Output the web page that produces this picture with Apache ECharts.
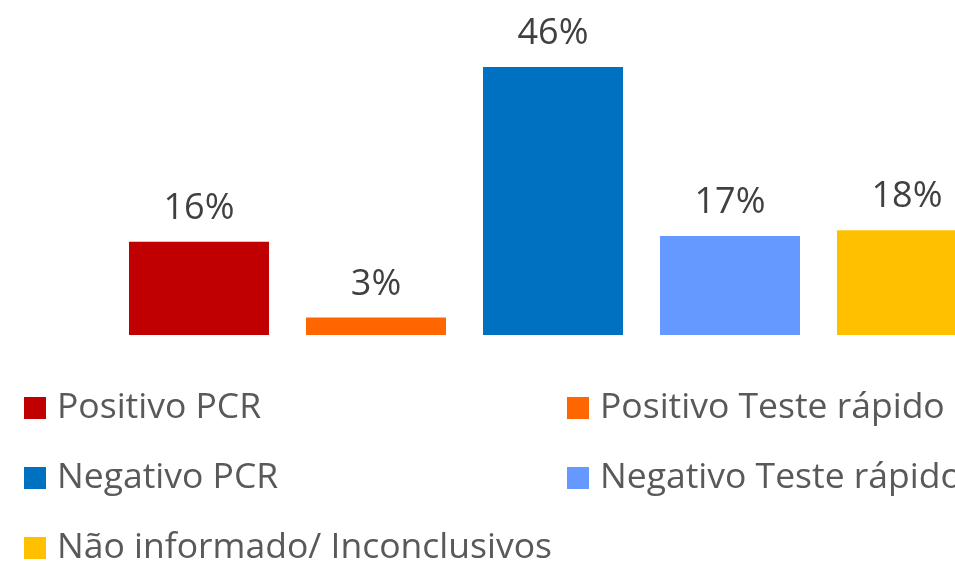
<!DOCTYPE html>
<html>
<head>
<meta charset="utf-8">
<script src="https://cdn.jsdelivr.net/npm/echarts@6/dist/echarts.min.js"></script>
<style>
  html, body { margin: 0; padding: 0; background: #fff; }
  #chart { width: 955px; height: 562px; }
</style>
</head>
<body>
<div id="chart"></div>
<script>
// Dados do gráfico
const categorias = ['Positivo PCR', 'Positivo Teste rápido', 'Negativo PCR', 'Negativo Teste rápido', 'Não informado/ Inconclusivos'];
const valores = [16, 3, 46, 17, 18];
const cores = ['#C00000', '#FF6600', '#0070C0', '#6699FF', '#FFC000'];

// posição de cada item da legenda (duas colunas)
const legendPos = [
  { left: 24, top: 388 },
  { left: 567, top: 388 },
  { left: 24, top: 458 },
  { left: 567, top: 458 },
  { left: 24, top: 528 }
];

const FONT = '"Open Sans", sans-serif';

const chart = echarts.init(document.getElementById('chart'), null, { renderer: 'canvas' });

// uma série por categoria; o eixo x é numérico para a última barra sair cortada na borda
const series = categorias.map((nome, i) => ({
  name: nome,
  type: 'bar',
  barWidth: 140,
  barGap: '-100%',
  animation: false,
  itemStyle: { color: cores[i] },
  label: {
    show: true,
    position: 'top',
    distance: 15,
    formatter: p => p.value[1] + '%',
    color: '#404040',
    fontFamily: FONT,
    fontSize: 36
  },
  data: [[i, valores[i]]]
}));

chart.setOption({
  backgroundColor: '#fff',
  grid: { left: 110.5, right: 0, top: 43.7, height: 291.3 },
  xAxis: {
    type: 'value',
    min: -0.5,
    max: -0.5 + 844.5 / 177,
    show: false,
    splitLine: { show: false }
  },
  yAxis: {
    type: 'value',
    min: 0,
    max: 50,
    show: false,
    splitLine: { show: false }
  },
  legend: categorias.map((nome, i) => ({
    data: [nome],
    left: legendPos[i].left,
    top: legendPos[i].top,
    padding: 0,
    icon: 'rect',
    itemWidth: 22,
    itemHeight: 22,
    itemGap: 0,
    selectedMode: false,
    textStyle: {
      color: '#595959',
      fontFamily: FONT,
      fontSize: 35.5,
      lineHeight: 40,
      padding: [0, 0, 0, 6]
    }
  })),
  series: series
});
</script>
</body>
</html>
